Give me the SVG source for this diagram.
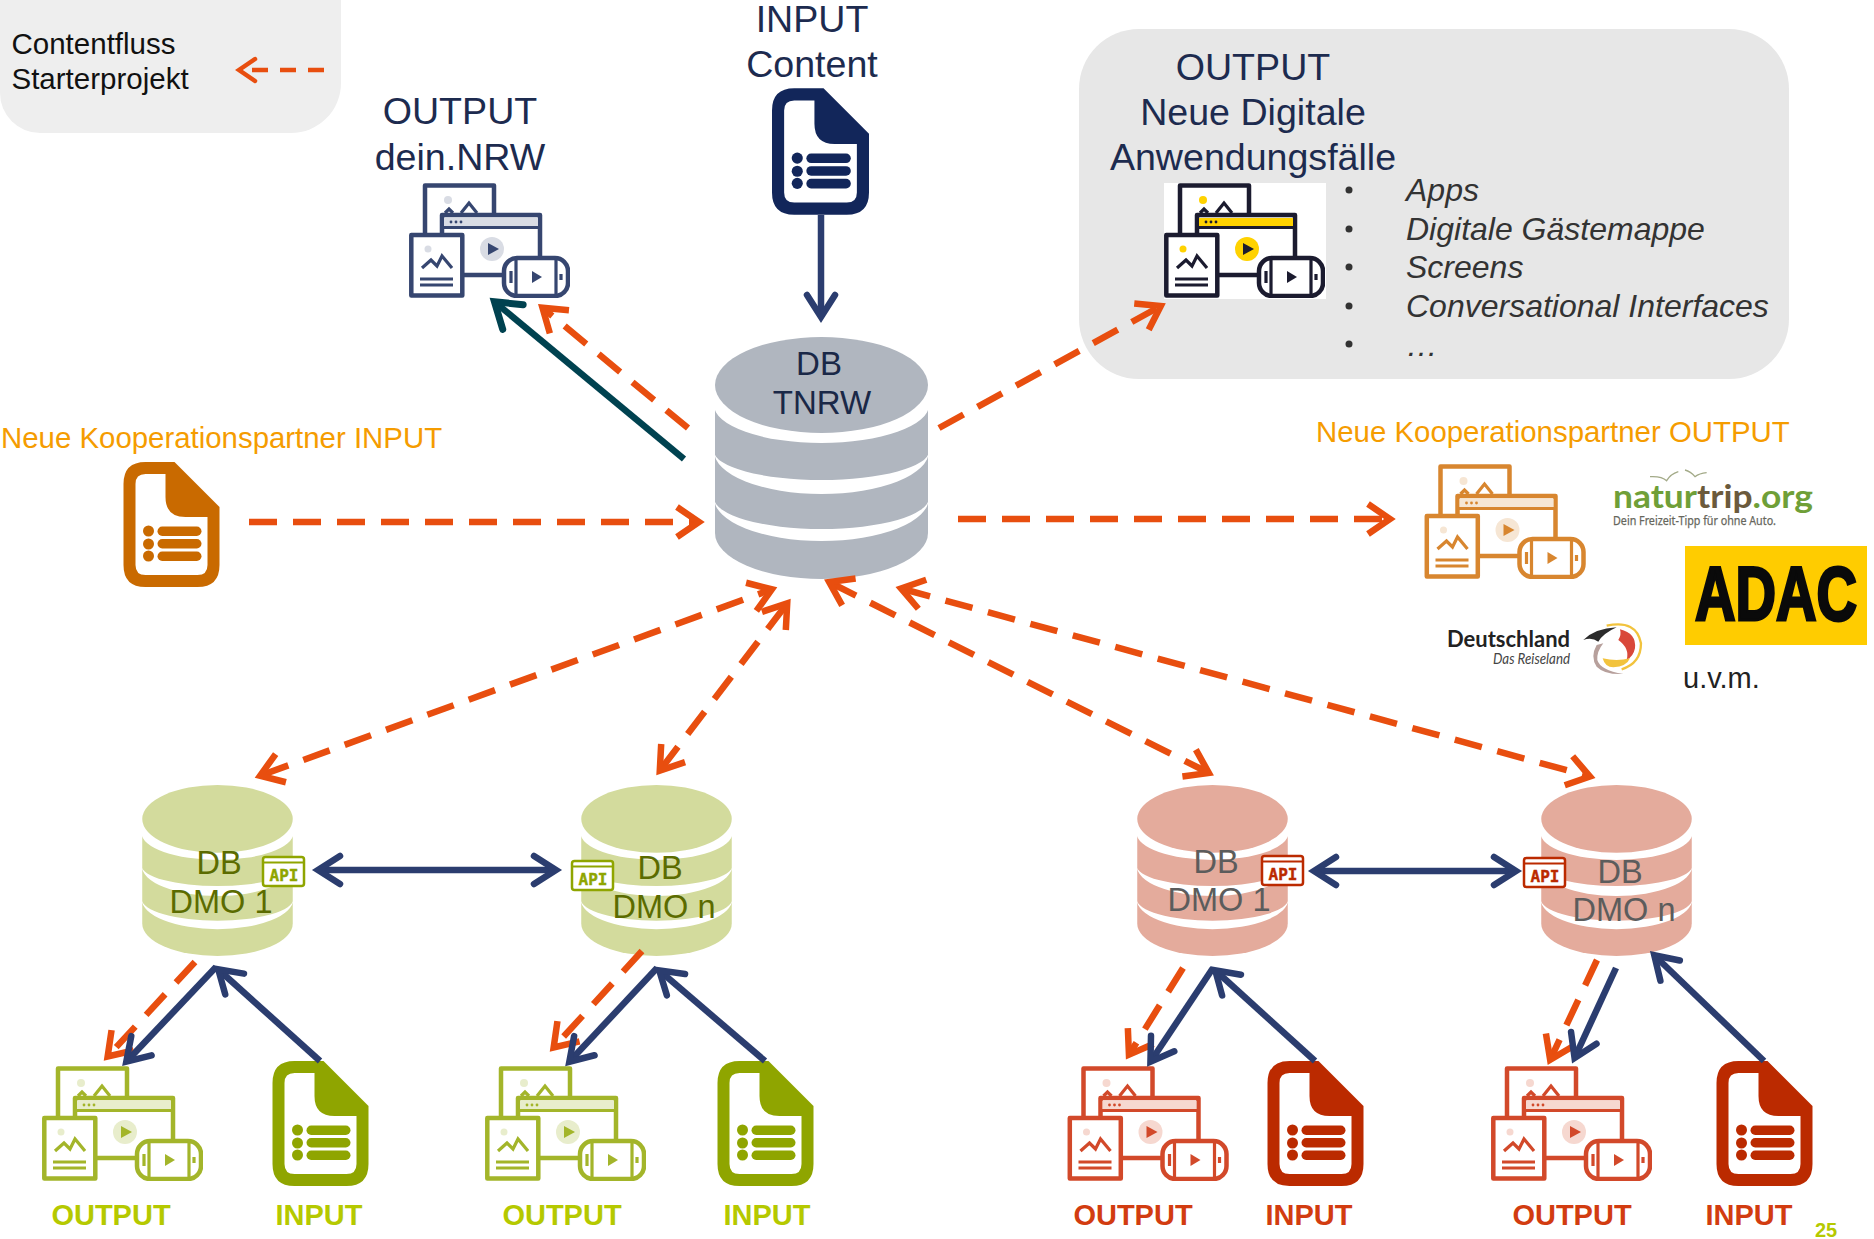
<svg xmlns="http://www.w3.org/2000/svg" width="1874" height="1239" viewBox="0 0 1874 1239">
<style>
text{font-family:"Liberation Sans",Arial,sans-serif}
.m{text-anchor:middle}
.big{font-size:37.600px;fill:#1d2b4f}
.it{font-size:32px;font-style:italic;fill:#333}
.db{font-size:32.500px;text-anchor:middle}
.lab{font-size:29px;font-weight:bold;text-anchor:middle}
.gl{fill:#b5c900}.rl{fill:#d23c10}
.or{font-size:29.400px;fill:#f59c00}
.ga{color:#8fa500}.ra{color:#bb2a00}
.tint{fill:var(--t)}
.ms{fill:#fff;stroke:currentColor;stroke-width:4.500;stroke-linejoin:round}
.ml{fill:none;stroke:currentColor;stroke-width:3.200}
.ic{fill:currentColor}
.o{fill:none;stroke:#e84e0f;stroke-width:6.500;stroke-dasharray:28 16}
.n{fill:none;stroke:#2b3d6f;stroke-width:6.500}
.apit{font-family:"DejaVu Sans Mono",monospace;font-size:16px;font-weight:bold;text-anchor:middle;fill:currentColor;stroke:currentColor;stroke-width:.4}
.lato{font-family:Lato,"Liberation Sans",sans-serif}
</style>
<defs>
<marker id="ao" markerUnits="userSpaceOnUse" markerWidth="50" markerHeight="50" refX="27" refY="25" orient="auto-start-reverse" viewBox="0 0 50 50"><path d="M7 10 L29 25 L7 40" fill="none" stroke="#e84e0f" stroke-width="6.500"/></marker>
<marker id="al" markerUnits="userSpaceOnUse" markerWidth="40" markerHeight="40" refX="20" refY="20" orient="auto" viewBox="0 0 40 40"><path d="M4 9 L20 20 L4 31" fill="none" stroke="#e84e0f" stroke-width="4.500" stroke-linecap="round"/></marker>
<marker id="an" markerUnits="userSpaceOnUse" markerWidth="50" markerHeight="50" refX="27" refY="25" orient="auto-start-reverse" viewBox="0 0 50 50"><path d="M6 11 L28 25 L6 39" fill="none" stroke="#2b3d6f" stroke-width="6.500" stroke-linecap="round"/></marker>
<marker id="at" markerUnits="userSpaceOnUse" markerWidth="50" markerHeight="50" refX="27" refY="25" orient="auto-start-reverse" viewBox="0 0 50 50"><path d="M5 9 L29 25 L5 41" fill="none" stroke="#004250" stroke-width="7" stroke-linecap="round"/></marker>
<symbol id="cyl" viewBox="0 0 213 242" overflow="visible">
<path class="ic" d="M0 66H213V196A106.500 46 0 0 1 0 196Z"/>
<path fill="#fff" d="M-1 68A107.500 38 0 0 0 214 68V40H-1Z"/>
<path fill="#fff" d="M-1 114A107.500 29 0 0 0 214 114A107.500 43 0 0 1 -1 114Z"/>
<path fill="#fff" d="M-1 161A107.500 31 0 0 0 214 161A107.500 43 0 0 1 -1 161Z"/>
<ellipse class="ic" cx="106.500" cy="48" rx="106.500" ry="48"/>
</symbol>
<symbol id="doc" viewBox="0 0 96 125">
<path class="ic" fill-rule="evenodd" d="M22 0H51L96 45V103Q96 125 74 125H22Q0 125 0 103V22Q0 0 22 0ZM22 12Q12 12 12 22V103Q12 113 22 113H74Q84 113 84 103V55H62Q42 55 42 35V12Z"/>
<g class="ic"><circle cx="25" cy="69" r="5.500"/><circle cx="25" cy="82" r="5.500"/><circle cx="25" cy="94" r="5.500"/>
<rect x="34" y="64.500" width="44" height="9.500" rx="4.700"/><rect x="34" y="77" width="44" height="9.500" rx="4.700"/><rect x="34" y="89.500" width="44" height="9.500" rx="4.700"/></g>
</symbol>
<symbol id="media" viewBox="0 0 161 115">
<rect class="ms" x="16" y="2.500" width="69" height="60"/>
<circle class="tint" cx="39" cy="17" r="4"/>
<path class="ml" d="M36 30L40 26L44 30M52 30L60 20L68 30"/>
<rect class="ms" x="33" y="32" width="98" height="60"/>
<rect class="tint" x="35" y="35" width="94" height="8"/>
<path class="ml" d="M33 44.500H131"/>
<circle class="ic" cx="42" cy="39" r="1.400"/><circle class="ic" cx="47" cy="39" r="1.400"/><circle class="ic" cx="52" cy="39" r="1.400"/>
<circle class="tint" cx="83" cy="66" r="12"/>
<path class="ic" d="M79 60L90 66L79 72Z"/>
<rect class="ms" x="2.300" y="52" width="51" height="60.500"/>
<circle class="tint" cx="19" cy="66" r="3.500"/>
<path class="ml" d="M13 85L22 77L28 83L33 73L43 85M11 96H44M11 102H44"/>
<rect class="ms" x="95" y="75" width="64" height="38" rx="13"/>
<path class="ml" d="M107 75V113M147 75V113M102 88V100M152 91V97"/>
<path class="ic" d="M123 88L133 94L123 100Z"/>
</symbol>
<symbol id="api" viewBox="0 0 43 30" overflow="visible">
<rect x="1" y="1" width="41" height="29" rx="2.500" fill="#fff" stroke="currentColor" stroke-width="2.500"/>
<path d="M1 6.500H42" stroke="currentColor" stroke-width="2"/>
<text class="apit" x="22" y="24.500">API</text>
</symbol>
</defs>

<g id="legend">
<path fill="#eeeeee" d="M0 0H341V83A50 50 0 0 1 291 133H40A40 40 0 0 1 0 93Z"/>
<text x="11.500" y="54" font-size="29.500" fill="#111">Contentfluss</text>
<text x="11.500" y="89" font-size="29.500" fill="#111">Starterprojekt</text>
</g>

<g id="panel-output">
<rect x="1079" y="29" width="710" height="350" rx="60" fill="#e7e7e7"/>
<g class="big m"><text x="1253" y="80">OUTPUT</text><text x="1253" y="125">Neue Digitale</text><text x="1253" y="170">Anwendungsfälle</text></g>
<rect x="1164" y="183" width="162" height="116" fill="#fff"/>
<use href="#media" x="1164" y="183" width="161" height="115" style="color:#1b1b2f;--t:#ffd200"/>
<g fill="#333"><circle cx="1349" cy="190" r="3.500"/><circle cx="1349" cy="229" r="3.500"/><circle cx="1349" cy="267" r="3.500"/><circle cx="1349" cy="306" r="3.500"/><circle cx="1349" cy="344" r="3.500"/></g>
<text class="it" x="1406" y="201">Apps</text><text class="it" x="1406" y="240">Digitale Gästemappe</text><text class="it" x="1406" y="278">Screens</text><text class="it" x="1406" y="317">Conversational Interfaces</text><text class="it" x="1406" y="356">…</text>
</g>

<g id="db-tnrw">
<use href="#cyl" x="715" y="337" width="213" height="242" style="color:#b0b6bf"/>
<text class="db" x="819" y="375" fill="#1a2847" style="font-size:33px">DB</text><text class="db" x="822" y="414" fill="#1a2847" style="font-size:33px">TNRW</text>
</g>

<g id="output-nrw">
<g class="big m"><text x="460" y="124">OUTPUT</text><text x="460" y="170">dein.NRW</text></g>
<use href="#media" x="409" y="183" width="161" height="115" style="color:#364670;--t:#d9dce4"/>
</g>
<g id="input-content">
<g class="big m"><text x="812" y="32">INPUT</text><text x="812" y="77">Content</text></g>
<use href="#doc" x="772" y="88" width="97" height="127" style="color:#12265a"/>
</g>

<g id="partner-input">
<text class="or" x="1" y="448">Neue Kooperationspartner INPUT</text>
<use href="#doc" x="123" y="462" width="97" height="125" style="color:#c96a00"/>
</g>

<g id="partner-output">
<text class="or" x="1316" y="442">Neue Kooperationspartner OUTPUT</text>
<use href="#media" x="1424" y="464" width="162" height="115" style="color:#d8862f;--t:#f6e6d4"/>
<g transform="translate(1600 460) scale(.3333)" fill="none" stroke="#a3aa88" stroke-width="4"><path d="M150 50Q185 48 200 62Q212 42 235 35M255 30Q272 34 285 50Q298 40 320 38"/></g>
<text class="lato" x="1613" y="508" font-size="33" font-weight="bold" textLength="200" lengthAdjust="spacingAndGlyphs"><tspan fill="#6f9f38">natur</tspan><tspan fill="#6b5a3c">trip</tspan><tspan fill="#6f9f38">.org</tspan></text>
<text x="1613" y="525" font-size="12.500" fill="#66665c" stroke="#66665c" stroke-width=".25" textLength="163" lengthAdjust="spacingAndGlyphs" style="font-family:'Noto Sans',sans-serif">Dein Freizeit-Tipp für ohne Auto.</text>
<rect x="1685" y="546" width="182" height="99" fill="#ffcc00"/>
<text x="1695" y="620" font-size="76" font-weight="bold" fill="#0a0a0a" stroke="#0a0a0a" stroke-width="3" textLength="162" lengthAdjust="spacingAndGlyphs">ADAC</text>
<text class="lato" x="1447" y="647" font-size="23" font-weight="bold" fill="#222" textLength="123" lengthAdjust="spacingAndGlyphs">Deutschland</text>
<text class="lato" x="1493" y="664" font-size="15.500" font-style="italic" fill="#444" textLength="77" lengthAdjust="spacingAndGlyphs">Das Reiseland</text>
<g transform="translate(1440 610) scale(.3333)">
<path d="M500 47Q590 28 603 100Q603 160 545 178" fill="none" stroke="#f2c33d" stroke-width="7"/>
<path d="M540 58Q590 70 585 115Q580 140 560 150Q570 115 535 90Q545 75 540 58Z" fill="#d9483a"/>
<path d="M430 90Q465 55 530 52Q490 70 475 95Q455 80 430 90Z" fill="#2b2b2b"/>
<path d="M470 105Q450 140 470 170Q495 195 550 192Q480 180 472 150Q470 125 490 100Z" fill="#b7a09c"/>
<path d="M488 145Q530 155 570 145Q560 170 520 172Q495 172 488 145Z" fill="#f2c33d"/>
</g>
<text x="1683" y="688" font-size="29" fill="#222">u.v.m.</text>
</g>

<g id="db-dmo-g1">
<use href="#cyl" x="142" y="785" width="151" height="171" style="color:#d3db9d"/>
<text class="db" x="219" y="874" fill="#5b6b00">DB</text><text class="db" x="221" y="913" fill="#5b6b00">DMO 1</text>
<use href="#api" class="ga" x="262" y="856" width="43" height="30"/>
</g>
<g id="db-dmo-gn">
<use href="#cyl" x="581" y="785" width="151" height="171" style="color:#d3db9d"/>
<text class="db" x="660" y="879" fill="#5b6b00">DB</text><text class="db" x="664" y="918" fill="#5b6b00">DMO n</text>
<use href="#api" class="ga" x="571" y="860" width="43" height="30"/>
</g>
<g id="db-dmo-r1">
<use href="#cyl" x="1137" y="785" width="151" height="171" style="color:#e4ab9c"/>
<text class="db" x="1216" y="873" fill="#5c5c5c">DB</text><text class="db" x="1219" y="911" fill="#5c5c5c">DMO 1</text>
<use href="#api" class="ra" x="1261" y="855" width="43" height="30"/>
</g>
<g id="db-dmo-rn">
<use href="#cyl" x="1541" y="785" width="151" height="171" style="color:#e4ab9c"/>
<text class="db" x="1620" y="883" fill="#5c5c5c">DB</text><text class="db" x="1624" y="921" fill="#5c5c5c">DMO n</text>
<use href="#api" class="ra" x="1523" y="857" width="43" height="30"/>
</g>

<g id="g1-out"><use href="#media" x="42" y="1066" width="161" height="115" style="color:#a3b52a;--t:#e8edcc"/><text class="lab gl" x="111" y="1225">OUTPUT</text></g>
<g id="g1-in"><use href="#doc" x="272" y="1061" width="97" height="125" style="color:#8fa500"/><text class="lab gl" x="319" y="1225">INPUT</text></g>
<g id="gn-out"><use href="#media" x="485" y="1066" width="161" height="115" style="color:#a3b52a;--t:#e8edcc"/><text class="lab gl" x="562" y="1225">OUTPUT</text></g>
<g id="gn-in"><use href="#doc" x="717" y="1061" width="97" height="125" style="color:#8fa500"/><text class="lab gl" x="767" y="1225">INPUT</text></g>
<g id="r1-out"><use href="#media" x="1067" y="1066" width="162" height="115" style="color:#d2492a;--t:#f6d8d0"/><text class="lab rl" x="1133" y="1225">OUTPUT</text></g>
<g id="r1-in"><use href="#doc" x="1267" y="1061" width="97" height="125" style="color:#bb2a00"/><text class="lab rl" x="1309" y="1225">INPUT</text></g>
<g id="rn-out"><use href="#media" x="1491" y="1066" width="161" height="115" style="color:#d2492a;--t:#f6d8d0"/><text class="lab rl" x="1572" y="1225">OUTPUT</text></g>
<g id="rn-in"><use href="#doc" x="1716" y="1061" width="97" height="125" style="color:#bb2a00"/><text class="lab rl" x="1749" y="1225">INPUT</text></g>
<text id="page" x="1815" y="1237" font-size="20" font-weight="bold" fill="#b5c900">25</text>

<g id="connectors">
<path d="M324 70H239" fill="none" stroke="#e84e0f" stroke-width="4.500" stroke-dasharray="16 12" marker-end="url(#al)"/>
<path class="n" d="M821 215V316" marker-end="url(#an)"/>
<path d="M684 459L496 303" fill="none" stroke="#004250" stroke-width="6.500" marker-end="url(#at)"/>
<path class="o" d="M688 428L544 309" marker-end="url(#ao)"/>
<path class="o" d="M939 428L1159 307" marker-end="url(#ao)"/>
<path class="o" d="M249 522H697" marker-end="url(#ao)"/>
<path class="o" d="M958 519H1388" marker-end="url(#ao)"/>
<path class="o" d="M262 775L770 590" marker-start="url(#ao)" marker-end="url(#ao)"/>
<path class="o" d="M661 769L786 605" marker-start="url(#ao)" marker-end="url(#ao)"/>
<path class="o" d="M831 583L1207 772" marker-start="url(#ao)" marker-end="url(#ao)"/>
<path class="o" d="M903 589L1588 776" marker-start="url(#ao)" marker-end="url(#ao)"/>
<path class="n" d="M319 870H555" marker-start="url(#an)" marker-end="url(#an)"/>
<path class="n" d="M1315 871H1515" marker-start="url(#an)" marker-end="url(#an)"/>
<path class="o" d="M195 962L109 1055" marker-end="url(#ao)"/>
<path class="n" d="M216 967L127 1061" marker-end="url(#an)"/>
<path class="n" d="M320 1061L219 970" marker-end="url(#an)"/>
<path class="o" d="M642 951L555 1046" marker-end="url(#ao)"/>
<path class="n" d="M657 968L570 1061" marker-end="url(#an)"/>
<path class="n" d="M765 1061L660 971" marker-end="url(#an)"/>
<path class="o" d="M1183 968L1130 1053" marker-end="url(#ao)"/>
<path class="n" d="M1213 968L1151 1061" marker-end="url(#an)"/>
<path class="n" d="M1315 1061L1216 971" marker-end="url(#an)"/>
<path class="o" d="M1597 960L1551 1058" marker-end="url(#ao)"/>
<path class="n" d="M1616 968L1575 1057" marker-end="url(#an)"/>
<path class="n" d="M1764 1061L1655 956" marker-end="url(#an)"/>
</g>
</svg>
